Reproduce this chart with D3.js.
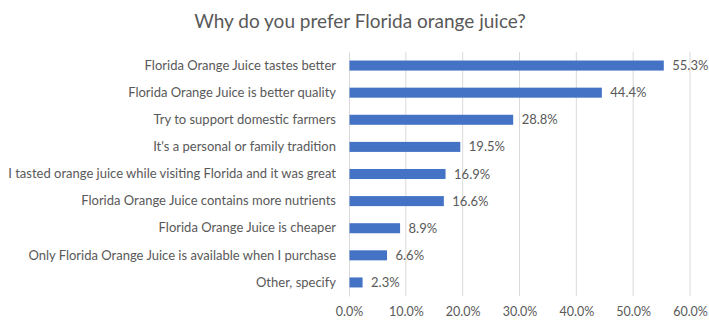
<!DOCTYPE html>
<html>
<head>
<meta charset="utf-8">
<script src="https://cdn.jsdelivr.net/npm/d3@7"></script>
<style>
  html, body { margin: 0; padding: 0; background: #fff; }
  svg { display: block; }
  text { font-family: Lato, "Open Sans", sans-serif; fill: #595959; }
</style>
</head>
<body>
<svg id="chart" width="709" height="320"></svg>
<script>
// Survey responses, listed top to bottom
const categories = [
  "Florida Orange Juice tastes better",
  "Florida Orange Juice is better quality",
  "Try to support domestic farmers",
  "It's a personal or family tradition",
  "I tasted orange juice while visiting Florida and it was great",
  "Florida Orange Juice contains more nutrients",
  "Florida Orange Juice is cheaper",
  "Only Florida Orange Juice is available when I purchase",
  "Other, specify"
];
const shares = [55.3, 44.4, 28.8, 19.5, 16.9, 16.6, 8.9, 6.6, 2.3];
const tickValues = [0, 10, 20, 30, 40, 50, 60];
const title = "Why do you prefer Florida orange juice?";

const svg = d3.select("#chart");
const margin = { top: 52, right: 19, bottom: 24, left: 349 };
const width = 709, height = 320;

const x = d3.scaleLinear()
  .domain([0, 60])
  .range([margin.left, width - margin.right]);

const y = d3.scaleBand()
  .domain(categories)
  .range([margin.top, height - margin.bottom])
  .paddingInner(0.63)
  .paddingOuter(0.315);

// Title
svg.append("text")
  .attr("x", 360)
  .attr("y", 28)
  .attr("text-anchor", "middle")
  .style("font-size", "19px")
  .text(title);

// Vertical gridlines
svg.append("g")
  .selectAll("line")
  .data(tickValues.slice(1))
  .join("line")
  .attr("x1", d => x(d))
  .attr("x2", d => x(d))
  .attr("y1", margin.top)
  .attr("y2", height - margin.bottom)
  .attr("stroke", "#d9d9d9")
  .attr("stroke-width", 1);

// X axis tick labels
const xAxis = d3.axisBottom(x)
  .tickValues(tickValues)
  .tickFormat(d => d.toFixed(1) + "%")
  .tickSize(0)
  .tickPadding(11);
const gx = svg.append("g")
  .attr("transform", `translate(0,${height - margin.bottom})`)
  .call(xAxis);
gx.select(".domain").remove();
gx.selectAll("text").style("font-size", "12.5px").attr("fill", "#595959");

// Category axis
const yAxis = d3.axisLeft(y).tickSize(0).tickPadding(13);
const gy = svg.append("g")
  .attr("transform", `translate(${margin.left},0)`)
  .call(yAxis);
gy.select(".domain").attr("stroke", "#d9d9d9");
gy.selectAll("text").style("font-size", "13px").attr("fill", "#595959");

// Bars
svg.append("g")
  .selectAll("rect")
  .data(categories)
  .join("rect")
  .attr("x", x(0) + 0.5)
  .attr("y", d => y(d))
  .attr("width", (d, i) => x(shares[i]) - x(0))
  .attr("height", y.bandwidth())
  .attr("fill", "#4472c4");

// Value labels
svg.append("g")
  .selectAll("text")
  .data(categories)
  .join("text")
  .attr("x", (d, i) => x(shares[i]) + 9)
  .attr("y", d => y(d) + y.bandwidth() / 2)
  .attr("dy", "0.35em")
  .style("font-size", "13px")
  .text((d, i) => shares[i].toFixed(1) + "%");
</script>
</body>
</html>
